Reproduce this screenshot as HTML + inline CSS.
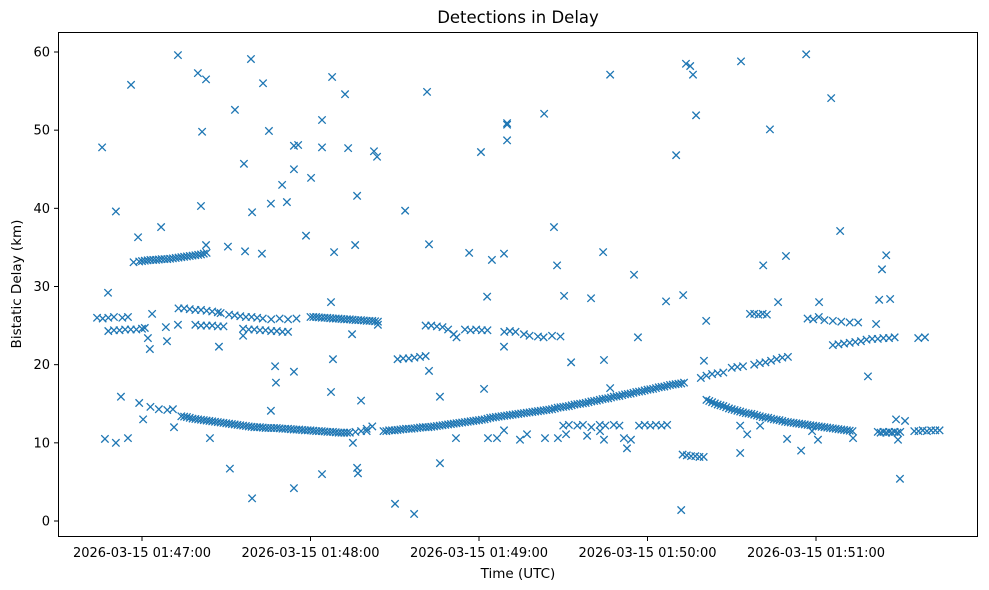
<!DOCTYPE html>
<html><head><meta charset="utf-8"><style>
html,body{margin:0;padding:0;background:#fff;}
svg{display:block;font-family:"DejaVu Sans","Liberation Sans",sans-serif;}
</style></head><body>
<svg id="chart" width="989" height="590" viewBox="0 0 989 590" xmlns="http://www.w3.org/2000/svg">
<rect x="0" y="0" width="989" height="590" fill="#fff"/>
<text x="518" y="23" font-size="16.5" text-anchor="middle" fill="#000">Detections in Delay</text>
<text x="518" y="578" font-size="13.5" text-anchor="middle" fill="#000">Time (UTC)</text>
<text x="0" y="0" font-size="13.5" text-anchor="middle" fill="#000" transform="translate(21,284) rotate(-90)">Bistatic Delay (km)</text>
<g id="marks"></g>
<g id="axes"></g>
<rect x="58.5" y="32.5" width="919" height="504" fill="none" stroke="#000" stroke-width="1"/>
</svg>
<script>
// times: seconds relative to 2026-03-15 01:47:00 UTC; delays in km
const trackLowT = [-1,3,6,9,11,14,16,18,20,22,24,26,28,30,32,34,36,38,40,42,44,46,48,50,52,54,56,58,60,62,64,66,68,70,72,74,76,80,86,88,90,92,94,96,98,100,102,104,106,108,110,112,114,116,118,120,122,124,126,128,130,132,134,136,138,140,142,144,146,148,150,152,154,156,158,160,162,164,166,168,170,172,174,176,178,180,182,184,186,188,190,192,193];
const trackLowD = [15.1,14.6,14.3,14.2,14.3,13.4,13.3,13.1,13.0,12.9,12.8,12.7,12.6,12.5,12.4,12.3,12.2,12.1,12.0,12.0,11.9,11.9,11.9,11.8,11.8,11.7,11.7,11.6,11.6,11.5,11.5,11.4,11.4,11.3,11.3,11.3,11.4,11.5,11.5,11.6,11.6,11.7,11.8,11.8,11.9,12.0,12.0,12.1,12.2,12.3,12.4,12.5,12.6,12.7,12.8,12.9,13.0,13.2,13.3,13.4,13.5,13.6,13.7,13.8,13.9,14.0,14.1,14.2,14.3,14.5,14.6,14.7,14.9,15.0,15.1,15.3,15.4,15.6,15.7,15.9,16.0,16.2,16.3,16.5,16.6,16.8,16.9,17.1,17.2,17.4,17.5,17.6,17.7];
const trackLow2T = [15,17,19,21,23,25,27,29,31,33,35,37,39,41,43,45,47,49,51,53,55,57,59,61,63,65,67,69,71,73,87,89,91,93,95,97,99,101,103,105,107,109,111,113,115,117,119,121,123,125,127,129,131,133,135,137,139,141,143,145,147,149,151,153,155,157,159,161,163,165,167,169,171,173,175,177,179,181,183,185,187,189,191];
const trackLow2D = [13.35,13.2,13.05,12.95,12.85,12.75,12.65,12.55,12.45,12.35,12.25,12.15,12.05,12.0,11.95,11.9,11.9,11.85,11.8,11.75,11.7,11.65,11.6,11.55,11.5,11.45,11.4,11.35,11.3,11.3,11.5,11.6,11.65,11.75,11.8,11.85,11.95,12.0,12.05,12.15,12.25,12.35,12.45,12.55,12.65,12.75,12.85,12.95,13.1,13.25,13.35,13.45,13.55,13.65,13.75,13.85,13.95,14.05,14.15,14.25,14.4,14.55,14.65,14.8,14.95,15.05,15.2,15.35,15.5,15.65,15.8,15.95,16.1,16.25,16.4,16.55,16.7,16.85,17.0,17.15,17.3,17.45,17.55];
const trackLateT = [201,203,205,207,209,211,213,215,217,219,221,223,225,227,229,231,233,235,237,239,241,243,245,247,249,251,253,262,263,264,265,266,267,268,269,270,275,276.5,278,279.5,281,282.5,284,202,204,206,208,210,212,214,216,218,220,222,224,226,228,230,232,234,236,238,240,242,244,246,248,250,252];
const trackLateD = [15.5,15.2,14.9,14.7,14.4,14.2,14.0,13.8,13.7,13.5,13.3,13.2,13.0,12.9,12.7,12.6,12.5,12.4,12.3,12.2,12.1,12.0,11.9,11.8,11.7,11.6,11.5,11.4,11.3,11.4,11.3,11.4,11.3,11.4,11.3,11.4,11.5,11.5,11.6,11.5,11.6,11.6,11.6,15.35,15.05,14.8,14.55,14.3,14.1,13.9,13.75,13.6,13.4,13.25,13.1,12.95,12.8,12.65,12.55,12.45,12.35,12.25,12.15,12.05,11.95,11.85,11.75,11.65,11.55];
const trackUpperT = [199,201,203,205,207,210,212,214,218,220,222,224,226,228,230,192.5,194,195.5,197,198.5,200,246,248,250,252,254,256,258,260,262,264,266,268,216.5,218,219.5,221,222.5,237,239,241,243,246,249,252,255];
const trackUpperD = [18.3,18.6,18.8,18.9,19.0,19.6,19.7,19.8,20.0,20.2,20.3,20.5,20.7,20.9,21.0,8.5,8.4,8.3,8.3,8.2,8.2,22.5,22.6,22.7,22.8,22.9,23.0,23.2,23.3,23.3,23.4,23.4,23.5,26.5,26.5,26.4,26.5,26.4,25.9,25.8,26.1,25.7,25.6,25.5,25.4,25.4];
const trackMidT = [-16,-14,-12,-10,-7,-5,-12,-10,-8,-6,-4,-2,0,1,-3,-1,1,3,5,7,9,11,13,15,17,19,21,23,13,15,17,19,21,23,25,27,28,19,21,23,25,27,29,31,33,35,37,39,41,36,38,40,42,44,46,48,50,52,43,46,49,52,55,60,62,64,66,68,70,72,74,76,78,80,82,84,91,93,95,97,99,101,101,103,105,107,109,111,112,115,117,119,121,123,129,131,133,136,138,141,143,146,149,0,2,4,6,8,10,12,14,16,18,20,22,61,63,65,67,69,71,73,75,77,79,81,83];
const trackMidD = [26.0,25.9,26.0,26.1,26.0,26.1,24.3,24.4,24.4,24.5,24.5,24.5,24.6,24.7,33.1,33.2,33.3,33.4,33.4,33.5,33.5,33.6,33.7,33.8,33.9,34.0,34.1,34.3,27.2,27.2,27.1,27.0,27.0,26.9,26.8,26.7,26.6,25.1,25.0,25.0,25.0,24.9,24.9,26.4,26.3,26.2,26.1,26.1,26.0,24.6,24.5,24.5,24.4,24.4,24.3,24.3,24.2,24.2,25.9,25.8,25.9,25.8,25.9,26.1,26.1,26.0,26.0,25.9,25.9,25.8,25.8,25.7,25.7,25.6,25.6,25.5,20.7,20.8,20.8,20.9,21.0,21.1,25.0,25.0,24.9,24.8,24.5,23.9,23.5,24.5,24.4,24.5,24.4,24.4,24.2,24.3,24.2,23.9,23.7,23.6,23.5,23.7,23.6,33.25,33.35,33.4,33.45,33.5,33.55,33.65,33.75,33.85,33.95,34.05,34.2,26.1,26.05,26.0,25.95,25.9,25.85,25.8,25.75,25.7,25.65,25.6,25.55];
const scatterT = [-14.2,-12.1,-9.3,-9.3,-13.2,-7.5,-5.0,-3.9,-1.4,0.4,2.1,2.8,3.6,6.8,8.5,8.9,11.4,12.8,12.8,19.9,21.0,21.4,22.8,22.8,24.2,27.4,30.6,31.3,33.1,36.3,36.7,36.0,38.8,39.2,39.2,43.1,42.7,45.2,45.9,45.9,47.4,47.7,49.9,51.6,54.1,54.1,54.1,54.1,55.6,58.4,60.2,64.1,64.1,64.1,67.3,67.3,67.7,68.0,68.4,72.3,73.4,74.8,75.9,76.6,76.6,76.9,78.0,82.6,83.7,84.0,75.1,90.1,93.7,96.9,101.5,102.2,102.2,106.1,106.1,111.8,116.5,120.7,121.8,122.9,123.2,124.6,126.4,128.9,128.9,128.9,130,130,130,134.6,137.1,143.5,148.1,151.0,143.2,146.7,147.8,150.3,152.8,158.5,159.9,164.2,164.5,166.7,166.7,163.1,164.5,171.6,172.7,174.1,175.2,176.6,186.6,190.2,192.0,192.7,193.7,195.2,196.2,197.3,200.1,200.9,213.3,213.0,213.0,215.5,220.1,221.2,223.6,226.5,229.3,229.7,234.7,236.5,238.6,240.7,241.1,245.4,248.6,253.2,258.5,261.4,262.5,263.5,265.0,266.4,268.5,271.7,269.2,269.9,276.4,278.8,150,152,155,157,160,163,165,168,170,177,179,181,183,185,187,78,80,82];
const scatterD = [47.8,29.2,39.6,10.0,10.5,15.9,10.6,55.8,36.3,13.0,23.4,22.0,26.5,37.6,24.8,23.0,12.0,59.6,25.1,57.3,40.3,49.8,56.5,35.3,10.6,22.3,35.1,6.7,52.6,45.7,34.5,23.7,59.1,39.5,2.9,56.0,34.2,49.9,40.6,14.1,19.8,17.7,43.0,40.8,45.0,19.1,4.2,48.0,48.1,36.5,43.9,47.8,51.3,6.0,16.5,28.0,56.8,20.7,34.4,54.6,47.7,23.9,35.3,41.6,6.8,6.1,15.4,47.3,46.6,25.1,10.0,2.2,39.7,0.9,54.9,35.4,19.2,15.9,7.4,10.6,34.3,47.2,16.9,28.7,10.6,33.4,10.6,34.2,22.3,11.6,50.7,50.9,48.7,10.4,11.1,10.6,10.6,11.1,52.1,37.6,32.7,28.8,20.3,10.9,28.5,34.4,20.6,57.1,17.0,11.5,10.4,10.6,9.3,10.4,31.5,23.5,28.1,46.8,1.4,28.9,58.5,58.2,57.1,51.9,20.5,25.6,58.8,8.7,12.2,11.1,12.2,32.7,50.1,28.0,33.9,10.5,9.0,59.7,11.5,10.4,28.0,54.1,37.1,10.6,18.5,25.2,28.3,32.2,34.0,28.4,13.0,12.8,10.4,5.4,23.4,23.5,12.2,12.3,12.2,12.3,12.0,12.3,12.2,12.3,12.2,12.2,12.3,12.2,12.3,12.2,12.3,11.5,11.8,12.1];
const yTicks = [0,10,20,30,40,50,60];
const xTicks = [0,60,120,180,240];
const xTickLabels = ["2026-03-15 01:47:00","2026-03-15 01:48:00","2026-03-15 01:49:00","2026-03-15 01:50:00","2026-03-15 01:51:00"];

const NS = "http://www.w3.org/2000/svg";
function xScale(t){ return 142 + t * (168.5/60); }
function yScale(d){ return 521 - d * (469/60); }
const marks = document.getElementById('marks');
const axes = document.getElementById('axes');
function drawX(t, d){
  const cx = xScale(t), cy = yScale(d), r = 3.7;
  const p = document.createElementNS(NS,'path');
  p.setAttribute('d', `M${cx-r},${cy-r}L${cx+r},${cy+r}M${cx-r},${cy+r}L${cx+r},${cy-r}`);
  p.setAttribute('stroke','#1f77b4');
  p.setAttribute('stroke-width','1.3');
  p.setAttribute('fill','none');
  
  
  marks.appendChild(p);
}
[[trackLowT,trackLowD],[trackLow2T,trackLow2D],[trackLateT,trackLateD],[trackUpperT,trackUpperD],[trackMidT,trackMidD],[scatterT,scatterD]].forEach(function(s){
  for(let i=0;i<s[0].length;i++) drawX(s[0][i], s[1][i]);
});
yTicks.forEach(function(v){
  const y = yScale(v);
  const l = document.createElementNS(NS,'line');
  l.setAttribute('x1',54); l.setAttribute('x2',58.5); l.setAttribute('y1',y); l.setAttribute('y2',y);
  l.setAttribute('stroke','#000');
  
  
  axes.appendChild(l);
  const tx = document.createElementNS(NS,'text');
  tx.setAttribute('x',50); tx.setAttribute('y',y+4.5);
  tx.setAttribute('font-size','13'); tx.setAttribute('text-anchor','end');
  tx.textContent = v;
  
  
  axes.appendChild(tx);
});
xTicks.forEach(function(v,i){
  const x = xScale(v);
  const l = document.createElementNS(NS,'line');
  l.setAttribute('x1',x); l.setAttribute('x2',x); l.setAttribute('y1',536.5); l.setAttribute('y2',541);
  l.setAttribute('stroke','#000');
  
  
  axes.appendChild(l);
  const tx = document.createElementNS(NS,'text');
  tx.setAttribute('x',x); tx.setAttribute('y',557);
  tx.setAttribute('font-size','13'); tx.setAttribute('text-anchor','middle');
  tx.textContent = xTickLabels[i];
  
  
  axes.appendChild(tx);
});
</script>
</body></html>
